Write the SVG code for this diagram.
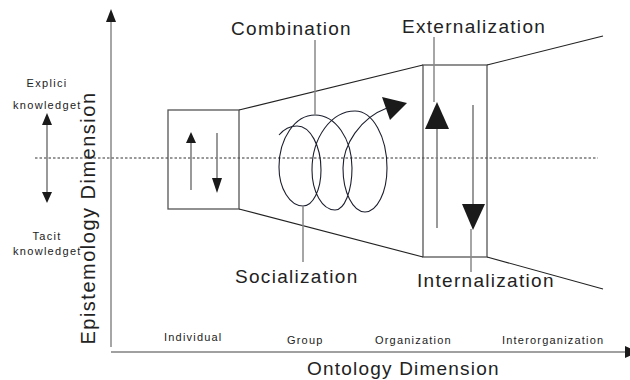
<svg xmlns="http://www.w3.org/2000/svg" width="630" height="380" viewBox="0 0 630 380">
  <style>
    text { font-family: "Liberation Sans", Arial, sans-serif; fill: #222; }
    .big { font-size: 19px; letter-spacing: 1.3px; }
    .small { font-size: 11px; letter-spacing: 1.2px; }
    .axis { stroke: #808080; stroke-width: 1.4; fill: none; }
    .box { stroke: #555; stroke-width: 1.3; fill: none; }
    .edge { stroke: #222; stroke-width: 1.1; fill: none; }
    .shaft { stroke: #808080; stroke-width: 1.6; fill: none; }
    .leader { stroke: #888; stroke-width: 1.5; fill: none; }
    .head { fill: #1a1a1a; stroke: none; }
    .dots { stroke: #333; stroke-width: 1; stroke-dasharray: 2.5 2; fill: none; }
    .coil { stroke: #1c1f2e; stroke-width: 1.1; fill: none; }
  </style>

  <!-- axes -->
  <g id="axes">
    <line class="axis" x1="111" y1="20" x2="111" y2="347"/>
    <polygon class="head" points="111,9 106,22 116,22"/>
    <line class="axis" x1="111" y1="352" x2="626" y2="352"/>
    <polygon class="head" points="625,346 638,352 625,358"/>
    <text class="big" transform="translate(95,218) rotate(-90)" text-anchor="middle" style="font-size:20px;letter-spacing:1.5px">Epistemology Dimension</text>
    <text class="big" x="307" y="375" style="letter-spacing:1.2px">Ontology Dimension</text>
  </g>

  <!-- horizontal tacit/explicit divider -->
  <line class="dots" x1="35" y1="158" x2="598" y2="158"/>

  <!-- knowledge scale on the left -->
  <g id="knowledge-scale">
    <line class="shaft" x1="47" y1="124" x2="47" y2="193"/>
    <polygon class="head" points="47,113 42,125 52,125"/>
    <polygon class="head" points="47,203 42,192 52,192"/>
    <text class="small" x="47" y="87" text-anchor="middle" style="letter-spacing:1.3px">Explici</text>
    <text class="small" x="13" y="109" style="letter-spacing:1.3px">knowledget</text>
    <text class="small" x="47" y="240" text-anchor="middle" style="letter-spacing:1.3px">Tacit</text>
    <text class="small" x="13" y="255" style="letter-spacing:1.3px">knowledget</text>
  </g>

  <!-- ontology levels -->
  <g id="levels">
    <text class="small" x="164" y="341">Individual</text>
    <text class="small" x="287" y="344">Group</text>
    <text class="small" x="375" y="344">Organization</text>
    <text class="small" x="502" y="344">Interorganization</text>
  </g>

  <!-- individual box -->
  <g id="individual-box">
    <rect class="box" x="168" y="110" width="71" height="99"/>
    <line class="shaft" x1="191" y1="142" x2="191" y2="190"/>
    <polygon class="head" points="191,132 186,143 196,143"/>
    <line class="shaft" x1="217" y1="133" x2="217" y2="179"/>
    <polygon class="head" points="217,193 212,178 222,178"/>
  </g>

  <!-- organization box -->
  <g id="organization-box">
    <rect class="box" x="423" y="65" width="64" height="192"/>
    <line class="shaft" x1="437" y1="128" x2="437" y2="228"/>
    <polygon class="head" points="437,102 425,129 449,129"/>
    <line class="shaft" x1="473" y1="105" x2="473" y2="205"/>
    <polygon class="head" points="473,230 462,204 485,204"/>
  </g>

  <!-- knowledge spiral -->
  <g id="spiral">
    <path class="coil" d="M279,135 C284,129 291,126 297,126
      C310.2,126 321,145.7 321,170
      C321,189.9 312.9,206 303,206
      C289.8,206 279,188.5 279,167
      C279,138.3 295.1,115 315,115
      C335.4,115 352,138.7 352,168
      C352,191.2 344.4,210 335,210
      C322.3,210 312,192.1 312,170
      C312,137.4 331.3,111 355,111
      C372.7,111 387,136.5 387,168
      C387,192.3 377.1,212 365,212
      C352.9,212 343,192.3 343,168
      C343,145 360,118 387,108"/>
    <polygon class="head" points="382,97 407,103 390,120"/>
  </g>

  <!-- connectors: funnel outline and label leaders -->
  <g id="connectors">
    <line class="edge" x1="239" y1="110" x2="423" y2="65"/>
    <line class="edge" x1="239" y1="209" x2="423" y2="257"/>
    <line class="edge" x1="487" y1="65" x2="603" y2="36"/>
    <line class="edge" x1="487" y1="257" x2="603" y2="289"/>
    <line class="leader" x1="315" y1="40" x2="315" y2="115"/>
    <line class="leader" x1="303" y1="206" x2="303" y2="262"/>
    <line class="leader" x1="434" y1="37" x2="434" y2="102"/>
    <line class="leader" x1="471" y1="229" x2="471" y2="272"/>
  </g>

  <!-- mode labels -->
  <g id="modes">
    <text class="big" x="231" y="35">Combination</text>
    <text class="big" x="402" y="33">Externalization</text>
    <text class="big" x="235" y="283">Socialization</text>
    <text class="big" x="417" y="287">Internalization</text>
  </g>
</svg>
